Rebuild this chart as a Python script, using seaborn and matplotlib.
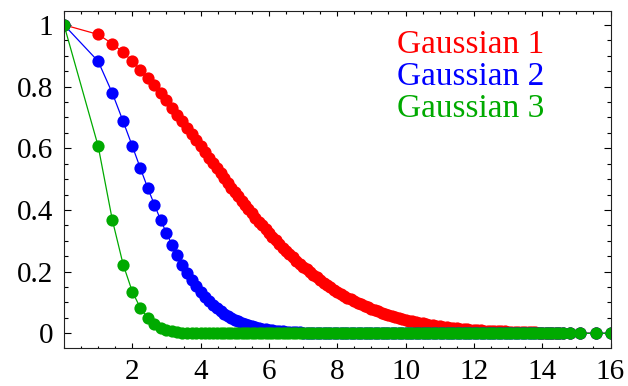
import matplotlib
matplotlib.use("Agg")
import matplotlib.pyplot as plt
import seaborn as sns
from matplotlib.ticker import MultipleLocator

# ---- data ----
x_vals = [0, 1, 1.414, 1.732, 2, 2.236, 2.449, 2.646, 2.828, 3,
          3.162, 3.317, 3.464, 3.606, 3.742, 3.873, 4, 4.123, 4.243, 4.359,
          4.472, 4.583, 4.69, 4.796, 4.899, 5,
          5.1, 5.2, 5.3, 5.4, 5.5, 5.6, 5.7, 5.8, 5.9, 6.0,
          6.1, 6.2, 6.3, 6.4, 6.5, 6.6, 6.7, 6.8, 6.9, 7.0,
          7.1, 7.2, 7.3, 7.4, 7.5, 7.6, 7.7, 7.8, 7.9, 8.0,
          8.1, 8.2, 8.3, 8.4, 8.5, 8.6, 8.7, 8.8, 8.9, 9.0,
          9.1, 9.2, 9.3, 9.4, 9.5, 9.6, 9.7, 9.8, 9.9, 10.0,
          10.1, 10.2, 10.3, 10.4, 10.5, 10.6, 10.7, 10.8, 10.9, 11.0,
          11.1, 11.2, 11.3, 11.4, 11.5, 11.6, 11.7, 11.8, 11.9, 12.0,
          12.1, 12.2, 12.3, 12.4, 12.5, 12.6, 12.7, 12.8, 12.9, 13.0,
          13.1, 13.2, 13.3, 13.4, 13.5, 13.6, 13.7, 13.8, 13.9, 14.0,
          14.1, 14.2, 14.3, 14.4, 14.5, 14.6,
          14.8, 15.1, 15.58, 16.0]

gauss1 = [1, 0.969, 0.939, 0.911, 0.882, 0.855, 0.829, 0.804, 0.779, 0.755,
          0.732, 0.709, 0.687, 0.666, 0.646, 0.626, 0.607, 0.588, 0.570, 0.552,
          0.535, 0.519, 0.503, 0.487, 0.472, 0.458,
          0.444, 0.430, 0.416, 0.402, 0.389, 0.375, 0.362, 0.350, 0.337, 0.325,
          0.313, 0.301, 0.289, 0.278, 0.267, 0.256, 0.246, 0.236, 0.226, 0.216,
          0.207, 0.198, 0.189, 0.181, 0.172, 0.164, 0.157, 0.149, 0.142, 0.135,
          0.129, 0.122, 0.116, 0.110, 0.105, 0.099, 0.094, 0.089, 0.084, 0.080,
          0.075, 0.071, 0.067, 0.063, 0.060, 0.056, 0.053, 0.050, 0.047, 0.044,
          0.041, 0.039, 0.036, 0.034, 0.032, 0.030, 0.028, 0.026, 0.024, 0.023,
          0.021, 0.020, 0.018, 0.017, 0.016, 0.015, 0.014, 0.013, 0.012, 0.011,
          0.010, 0.010, 0.009, 0.008, 0.008, 0.007, 0.006, 0.006, 0.006, 0.005,
          0.005, 0.004, 0.004, 0.004, 0.003, 0.003, 0.003, 0.003, 0.002, 0.002,
          0.002, 0.002, 0.002, 0.002, 0.001, 0.001,
          0.001, 0.001, 0.0, 0.0]

gauss2 = [1, 0.882, 0.779, 0.687, 0.607, 0.535, 0.472, 0.417, 0.368, 0.325,
          0.287, 0.253, 0.223, 0.197, 0.174, 0.153, 0.135, 0.119, 0.105, 0.093,
          0.082, 0.072, 0.064, 0.056, 0.050, 0.044,
          0.039, 0.034, 0.030, 0.026, 0.023, 0.020, 0.017, 0.015, 0.013, 0.011,
          0.010, 0.008, 0.007, 0.006, 0.005, 0.004, 0.004, 0.003, 0.003, 0.002,
          0.002, 0.002, 0.001, 0.001, 0.001, 0.001, 0.001, 0, 0, 0,
          0, 0, 0, 0, 0, 0, 0, 0, 0, 0,
          0, 0, 0, 0, 0, 0, 0, 0, 0, 0,
          0, 0, 0, 0, 0, 0, 0, 0, 0, 0,
          0, 0, 0, 0, 0, 0, 0, 0, 0, 0,
          0, 0, 0, 0, 0, 0, 0, 0, 0, 0,
          0, 0, 0, 0, 0, 0, 0, 0, 0, 0,
          0, 0, 0, 0, 0, 0,
          0, 0, 0, 0]

gauss3 = [1, 0.607, 0.368, 0.223, 0.135, 0.082, 0.050, 0.030, 0.018, 0.011,
          0.007, 0.004, 0.002, 0.002, 0.001, 0.001, 0, 0, 0, 0,
          0, 0, 0, 0, 0, 0,
          0, 0, 0, 0, 0, 0, 0, 0, 0, 0,
          0, 0, 0, 0, 0, 0, 0, 0, 0, 0,
          0, 0, 0, 0, 0, 0, 0, 0, 0, 0,
          0, 0, 0, 0, 0, 0, 0, 0, 0, 0,
          0, 0, 0, 0, 0, 0, 0, 0, 0, 0,
          0, 0, 0, 0, 0, 0, 0, 0, 0, 0,
          0, 0, 0, 0, 0, 0, 0, 0, 0, 0,
          0, 0, 0, 0, 0, 0, 0, 0, 0, 0,
          0, 0, 0, 0, 0, 0, 0, 0, 0, 0,
          0, 0, 0, 0, 0, 0,
          0, 0, 0, 0]

series_names = ["Gaussian 1", "Gaussian 2", "Gaussian 3"]
series_colors = ["#FF0000", "#0000FF", "#00AA00"]
x_ticks = [2, 4, 6, 8, 10, 12, 14, 16]
x_tick_labels = ["2", "4", "6", "8", "10", "12", "14", "16"]
y_ticks = [0, 0.2, 0.4, 0.6, 0.8, 1]
y_tick_labels = ["0", "0.2", "0.4", "0.6", "0.8", "1"]

# ---- style ----
sns.set_style("ticks")
plt.rcParams["font.family"] = ["Liberation Serif", "DejaVu Serif"]

fig = plt.figure(figsize=(6.28, 3.86), dpi=100)
ax = fig.add_axes([64 / 628, 1 - 347.5 / 386, (610.5 - 64) / 628, (347.5 - 11) / 386])

for yv, col in zip([gauss1, gauss2, gauss3], series_colors):
    sns.lineplot(x=x_vals, y=yv, ax=ax, color=col, marker="o", markersize=8.8,
                 markeredgewidth=0, markeredgecolor=col, linewidth=0.9,
                 estimator=None, clip_on=True)

ax.set_xlim(0, 16)
ax.set_ylim(-0.046, 1.045)
ax.set_xticks(x_ticks)
ax.set_xticklabels(x_tick_labels)
ax.set_yticks(y_ticks)
ax.set_yticklabels(y_tick_labels)
ax.xaxis.set_minor_locator(MultipleLocator(0.5))
ax.yaxis.set_minor_locator(MultipleLocator(0.05))
ax.tick_params(which="both", direction="in", top=True, right=True, colors="black",
               width=0.8)
ax.tick_params(axis="x", which="major", length=3.3, pad=8, labelsize=21)
ax.tick_params(axis="x", which="minor", length=1.8)
ax.tick_params(axis="y", which="major", length=5.0, pad=8, labelsize=21)
ax.tick_params(axis="y", which="minor", length=3.2)
for s in ax.spines.values():
    s.set_color("#222222")
    s.set_linewidth(0.8)
ax.set_xlabel("")
ax.set_ylabel("")

legend_y = [0.8743, 0.780, 0.686]
for name, col, yy in zip(series_names, series_colors, legend_y):
    ax.text(0.609, yy, name, color=col, fontsize=24, transform=ax.transAxes,
            ha="left", va="baseline")

fig.savefig("out.png", dpi=100)
